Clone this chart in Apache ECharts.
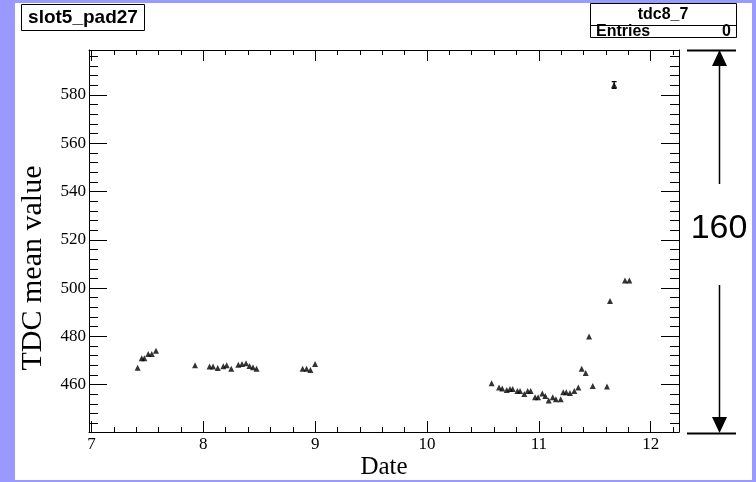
<!DOCTYPE html>
<html>
<head>
<meta charset="utf-8">
<script src="https://cdn.jsdelivr.net/npm/echarts@6/dist/echarts.min.js"></script>
<style>
	html,body{margin:0;padding:0;background:#9999ff;}
	#main{width:756px;height:482px;}
</style>
</head>
<body>
<div id="main"></div>
<script>
	// data
	let dates = [7.413, 7.449, 7.473, 7.508, 7.539, 7.577, 7.926, 8.056, 8.087, 8.129, 8.179, 8.209, 8.250, 8.313, 8.346, 8.382, 8.413, 8.444, 8.476,
		8.888, 8.923, 8.958, 8.999,
		10.578, 10.644, 10.673, 10.713, 10.742, 10.766, 10.808, 10.832, 10.870, 10.900, 10.927, 10.966, 10.993, 11.031, 11.058, 11.088, 11.124,
		11.153, 11.195, 11.218, 11.245, 11.278, 11.317, 11.353, 11.383, 11.419, 11.449, 11.482, 11.609, 11.636, 11.673, 11.770, 11.809];
	let values = [467.0, 470.9, 470.9, 472.7, 472.7, 474.1, 468.0, 467.5, 467.5, 466.9, 467.6, 468.0, 466.6, 468.2, 468.6, 468.9, 467.7, 467.2, 466.6,
		466.6, 466.6, 466.1, 468.6,
		460.6, 458.8, 458.4, 457.8, 458.2, 458.2, 457.4, 457.4, 456.1, 457.4, 457.4, 454.8, 454.8, 456.3, 455.3, 453.4, 454.8,
		454.0, 454.0, 456.9, 456.9, 456.5, 457.4, 458.8, 466.6, 464.8, 479.9, 459.5, 459.2, 494.7, 584.1, 503.1, 503.1];
	// error only visible on the lone high point
	let errors = [0, 0, 0, 0, 0, 0, 0, 0, 0, 0, 0, 0, 0, 0, 0, 0, 0, 0, 0,
		0, 0, 0, 0,
		0, 0, 0, 0, 0, 0, 0, 0, 0, 0, 0, 0, 0, 0, 0, 0, 0,
		0, 0, 0, 0, 0, 0, 0, 0, 0, 0, 0, 0, 0, 1.4, 0, 0];
	let xMajor = [7, 8, 9, 10, 11, 12];
	let yMajor = [460, 480, 500, 520, 540, 560, 580];
	let xMinor = [];
	for (let i = 0; i <= 26; i++) xMinor.push(Math.round((7 + i * 0.2) * 10) / 10);
	let yMinor = [];
	for (let v = 444; v <= 596; v += 4) yMinor.push(v);

	const XMIN = 6.978, XMAX = 12.253;
	const YMIN = 440.4, YMAX = 598.6;
	const serif = 'Liberation Serif';
	const sans = 'Liberation Sans';

	let points = [];
	for (let i = 0; i < dates.length; i++) points.push([dates[i], values[i], errors[i]]);

	function xAx(pos, ticks, len, withLine, withLabel) {
		return {
			type: 'value', min: XMIN, max: XMAX, position: pos,
			axisLine: {show: withLine, onZero: false, lineStyle: {color: '#000', width: 1}},
			axisTick: {show: true, inside: true, length: len, customValues: ticks, lineStyle: {color: '#000', width: 1}},
			axisLabel: withLabel ? {customValues: ticks, margin: 4, color: '#000', fontFamily: serif, fontSize: 17} : {show: false},
			splitLine: {show: false}
		};
	}
	function yAx(pos, ticks, len, withLine, withLabel) {
		return {
			type: 'value', min: YMIN, max: YMAX, position: pos,
			axisLine: {show: withLine, onZero: false, lineStyle: {color: '#000', width: 1}},
			axisTick: {show: true, inside: true, length: len, customValues: ticks, lineStyle: {color: '#000', width: 1}},
			axisLabel: withLabel ? {customValues: ticks, margin: 3, color: '#000', fontFamily: serif, fontSize: 17} : {show: false},
			splitLine: {show: false}
		};
	}

	let chart = echarts.init(document.getElementById('main'));
	let option = {
		backgroundColor: '#9999ff',
		animation: false,
		grid: {left: 89, top: 50, width: 590, height: 382, containLabel: false},
		xAxis: [
			xAx('bottom', xMajor, 11, true, true),
			xAx('bottom', xMinor, 5, false, false),
			xAx('top', xMajor, 11, true, false),
			xAx('top', xMinor, 5, false, false)
		],
		yAxis: [
			yAx('left', yMajor, 18, true, true),
			yAx('left', yMinor, 9, false, false),
			yAx('right', yMajor, 18, true, false),
			yAx('right', yMinor, 9, false, false)
		],
		graphic: [
			{type: 'rect', z: -10, silent: true, shape: {x: 15, y: 3, width: 737, height: 477}, style: {fill: '#fff'}},
			// title box
			{type: 'rect', shape: {x: 21.5, y: 4.5, width: 123, height: 26}, style: {fill: '#fff', stroke: '#000', lineWidth: 1}},
			{type: 'text', x: 83, y: 18, style: {text: 'slot5_pad27', font: 'bold 19px ' + sans, fill: '#000', align: 'center', verticalAlign: 'middle'}},
			// stats box
			{type: 'rect', shape: {x: 590.5, y: 3.5, width: 146, height: 34}, style: {fill: '#fff', stroke: '#000', lineWidth: 1}},
			{type: 'line', shape: {x1: 590.5, y1: 25.5, x2: 736.5, y2: 25.5}, style: {stroke: '#000', lineWidth: 1}},
			{type: 'text', x: 663, y: 15, style: {text: 'tdc8_7', font: 'bold 16px ' + sans, fill: '#000', align: 'center', verticalAlign: 'middle'}},
			{type: 'text', x: 596, y: 32, style: {text: 'Entries', font: 'bold 16px ' + sans, fill: '#000', align: 'left', verticalAlign: 'middle'}},
			{type: 'text', x: 731, y: 32, style: {text: '0', font: 'bold 16px ' + sans, fill: '#000', align: 'right', verticalAlign: 'middle'}},
			// range arrow on the right
			{type: 'line', shape: {x1: 687, y1: 50.5, x2: 736, y2: 50.5}, style: {stroke: '#000', lineWidth: 2}},
			{type: 'polygon', shape: {points: [[719.5, 50], [712, 66], [727, 66]]}, style: {fill: '#000'}},
			{type: 'line', shape: {x1: 719.5, y1: 66, x2: 719.5, y2: 184}, style: {stroke: '#000', lineWidth: 1.5}},
			{type: 'line', shape: {x1: 719.5, y1: 285, x2: 719.5, y2: 417}, style: {stroke: '#000', lineWidth: 1.5}},
			{type: 'polygon', shape: {points: [[719.5, 433], [712, 417], [727, 417]]}, style: {fill: '#000'}},
			{type: 'line', shape: {x1: 687, y1: 433.5, x2: 736, y2: 433.5}, style: {stroke: '#000', lineWidth: 2}},
			{type: 'text', x: 719, y: 229, style: {text: '160', font: '34px ' + sans, fill: '#000', align: 'center', verticalAlign: 'middle'}},
			// axis titles
			{type: 'text', x: 384, y: 467, style: {text: 'Date', font: '25px ' + serif, fill: '#000', align: 'center', verticalAlign: 'middle'}},
			{type: 'text', x: 33, y: 268, rotation: Math.PI / 2, style: {text: 'TDC mean value', font: '30px ' + serif, fill: '#000', align: 'center', verticalAlign: 'middle'}}
		],
		series: [
			{
				type: 'custom',
				xAxisIndex: 0, yAxisIndex: 0,
				data: points,
				z: 3,
				renderItem: function (params, api) {
					let e = api.value(2);
					if (!e) return null;
					let x = api.value(0), y = api.value(1);
					let lo = api.coord([x, y - e]), hi = api.coord([x, y + e]);
					return {
						type: 'group',
						children: [
							{type: 'line', shape: {x1: lo[0], y1: lo[1], x2: hi[0], y2: hi[1]}, style: {stroke: '#000', lineWidth: 1.2}},
							{type: 'line', shape: {x1: lo[0] - 2.5, y1: lo[1], x2: lo[0] + 2.5, y2: lo[1]}, style: {stroke: '#000', lineWidth: 1.2}},
							{type: 'line', shape: {x1: hi[0] - 2.5, y1: hi[1], x2: hi[0] + 2.5, y2: hi[1]}, style: {stroke: '#000', lineWidth: 1.2}}
						]
					};
				}
			},
			{
				type: 'scatter',
				xAxisIndex: 0, yAxisIndex: 0,
				symbol: 'triangle',
				symbolSize: 6,
				itemStyle: {color: '#000'},
				data: points,
				z: 4
			}
		]
	};
	chart.setOption(option);
</script>
</body>
</html>
